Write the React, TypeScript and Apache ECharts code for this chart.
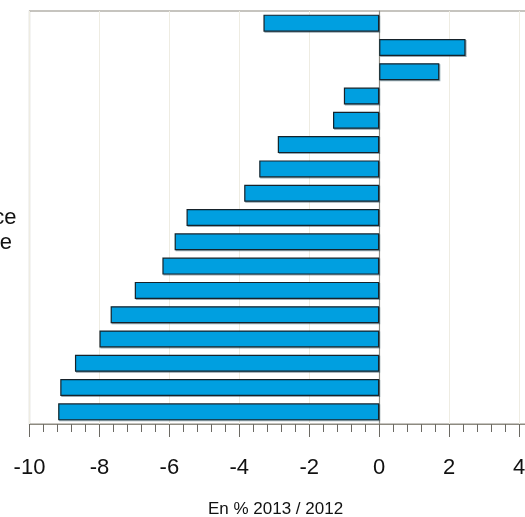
import React, { useEffect, useRef } from "react";
import * as echarts from "echarts";

const categories = [
  "A", "B", "C", "D", "E", "F", "G", "H", "I",
  "J", "K", "L", "M", "N", "O", "P", "Q",
];
const values = [
  -3.31, 2.47, 1.72, -1.01, -1.32, -2.9, -3.43, -3.86, -5.51,
  -5.85, -6.2, -6.99, -7.68, -8.0, -8.7, -9.12, -9.18,
];
const xTicks = { min: -10, max: 6, interval: 2 };
const axisTitle = "En % 2013 / 2012";
const sideLabelLine1 = "ce";
const sideLabelLine2 = "e";

export default function App() {
  const ref = useRef<HTMLDivElement>(null);
  useEffect(() => {
    if (!ref.current) return;
    const chart = echarts.init(ref.current, null, { renderer: "svg" });
    const font = "'Liberation Sans', Arial, sans-serif";
    chart.setOption({
      animation: false,
      grid: {
        left: 29.5,
        top: 11,
        right: -64,
        bottom: 93,
        outerBoundsMode: "none",
        containLabel: false,
        show: true,
        borderColor: "#8d8a80",
        borderWidth: 1.2,
        backgroundColor: "transparent",
      },
      xAxis: {
        type: "value",
        min: xTicks.min,
        max: xTicks.max,
        interval: xTicks.interval,
        axisLine: { show: true, lineStyle: { color: "#8d8a80", width: 1.2 } },
        axisTick: { show: true, length: 13, lineStyle: { color: "#6b6963", width: 1 } },
        minorTick: { show: true, splitNumber: 5, length: 8, lineStyle: { color: "#6b6963", width: 1 } },
        splitLine: { show: true, lineStyle: { color: "#eeece2", width: 1 } },
        axisLabel: {
          show: true,
          margin: 31,
          fontSize: 22,
          color: "#111",
          fontFamily: font,
        },
      },
      yAxis: {
        type: "category",
        data: categories,
        inverse: true,
        axisLine: { show: true, onZero: true, lineStyle: { color: "#8d8a80", width: 1.2 } },
        axisTick: { show: false },
        axisLabel: { show: false },
        splitLine: { show: false },
      },
      graphic: [
        {
          type: "text",
          x: 275.5,
          y: 508,
          style: {
            text: axisTitle,
            fontSize: 17,
            fontFamily: font,
            fill: "#111",
            textAlign: "center",
            textVerticalAlign: "middle",
          },
        },
        {
          type: "text",
          x: 16.5,
          y: 216,
          style: {
            text: sideLabelLine1,
            fontSize: 22,
            fontFamily: font,
            fill: "#111",
            textAlign: "right",
            textVerticalAlign: "middle",
          },
        },
        {
          type: "text",
          x: 12,
          y: 241,
          style: {
            text: sideLabelLine2,
            fontSize: 22,
            fontFamily: font,
            fill: "#111",
            textAlign: "right",
            textVerticalAlign: "middle",
          },
        },
      ],
      series: [
        {
          type: "bar",
          data: values,
          barWidth: 17,
          itemStyle: {
            color: "#009fe0",
            borderColor: "#12232c",
            borderWidth: 1.2,
            shadowColor: "rgba(20,60,80,0.45)",
            shadowOffsetX: 1,
            shadowOffsetY: 1,
            shadowBlur: 1,
          },
        },
      ],
    });
    return () => chart.dispose();
  }, []);
  return (
    <div
      ref={ref}
      style={{ position: "fixed", left: 0, top: 0, width: 525, height: 517 }}
    />
  );
}
